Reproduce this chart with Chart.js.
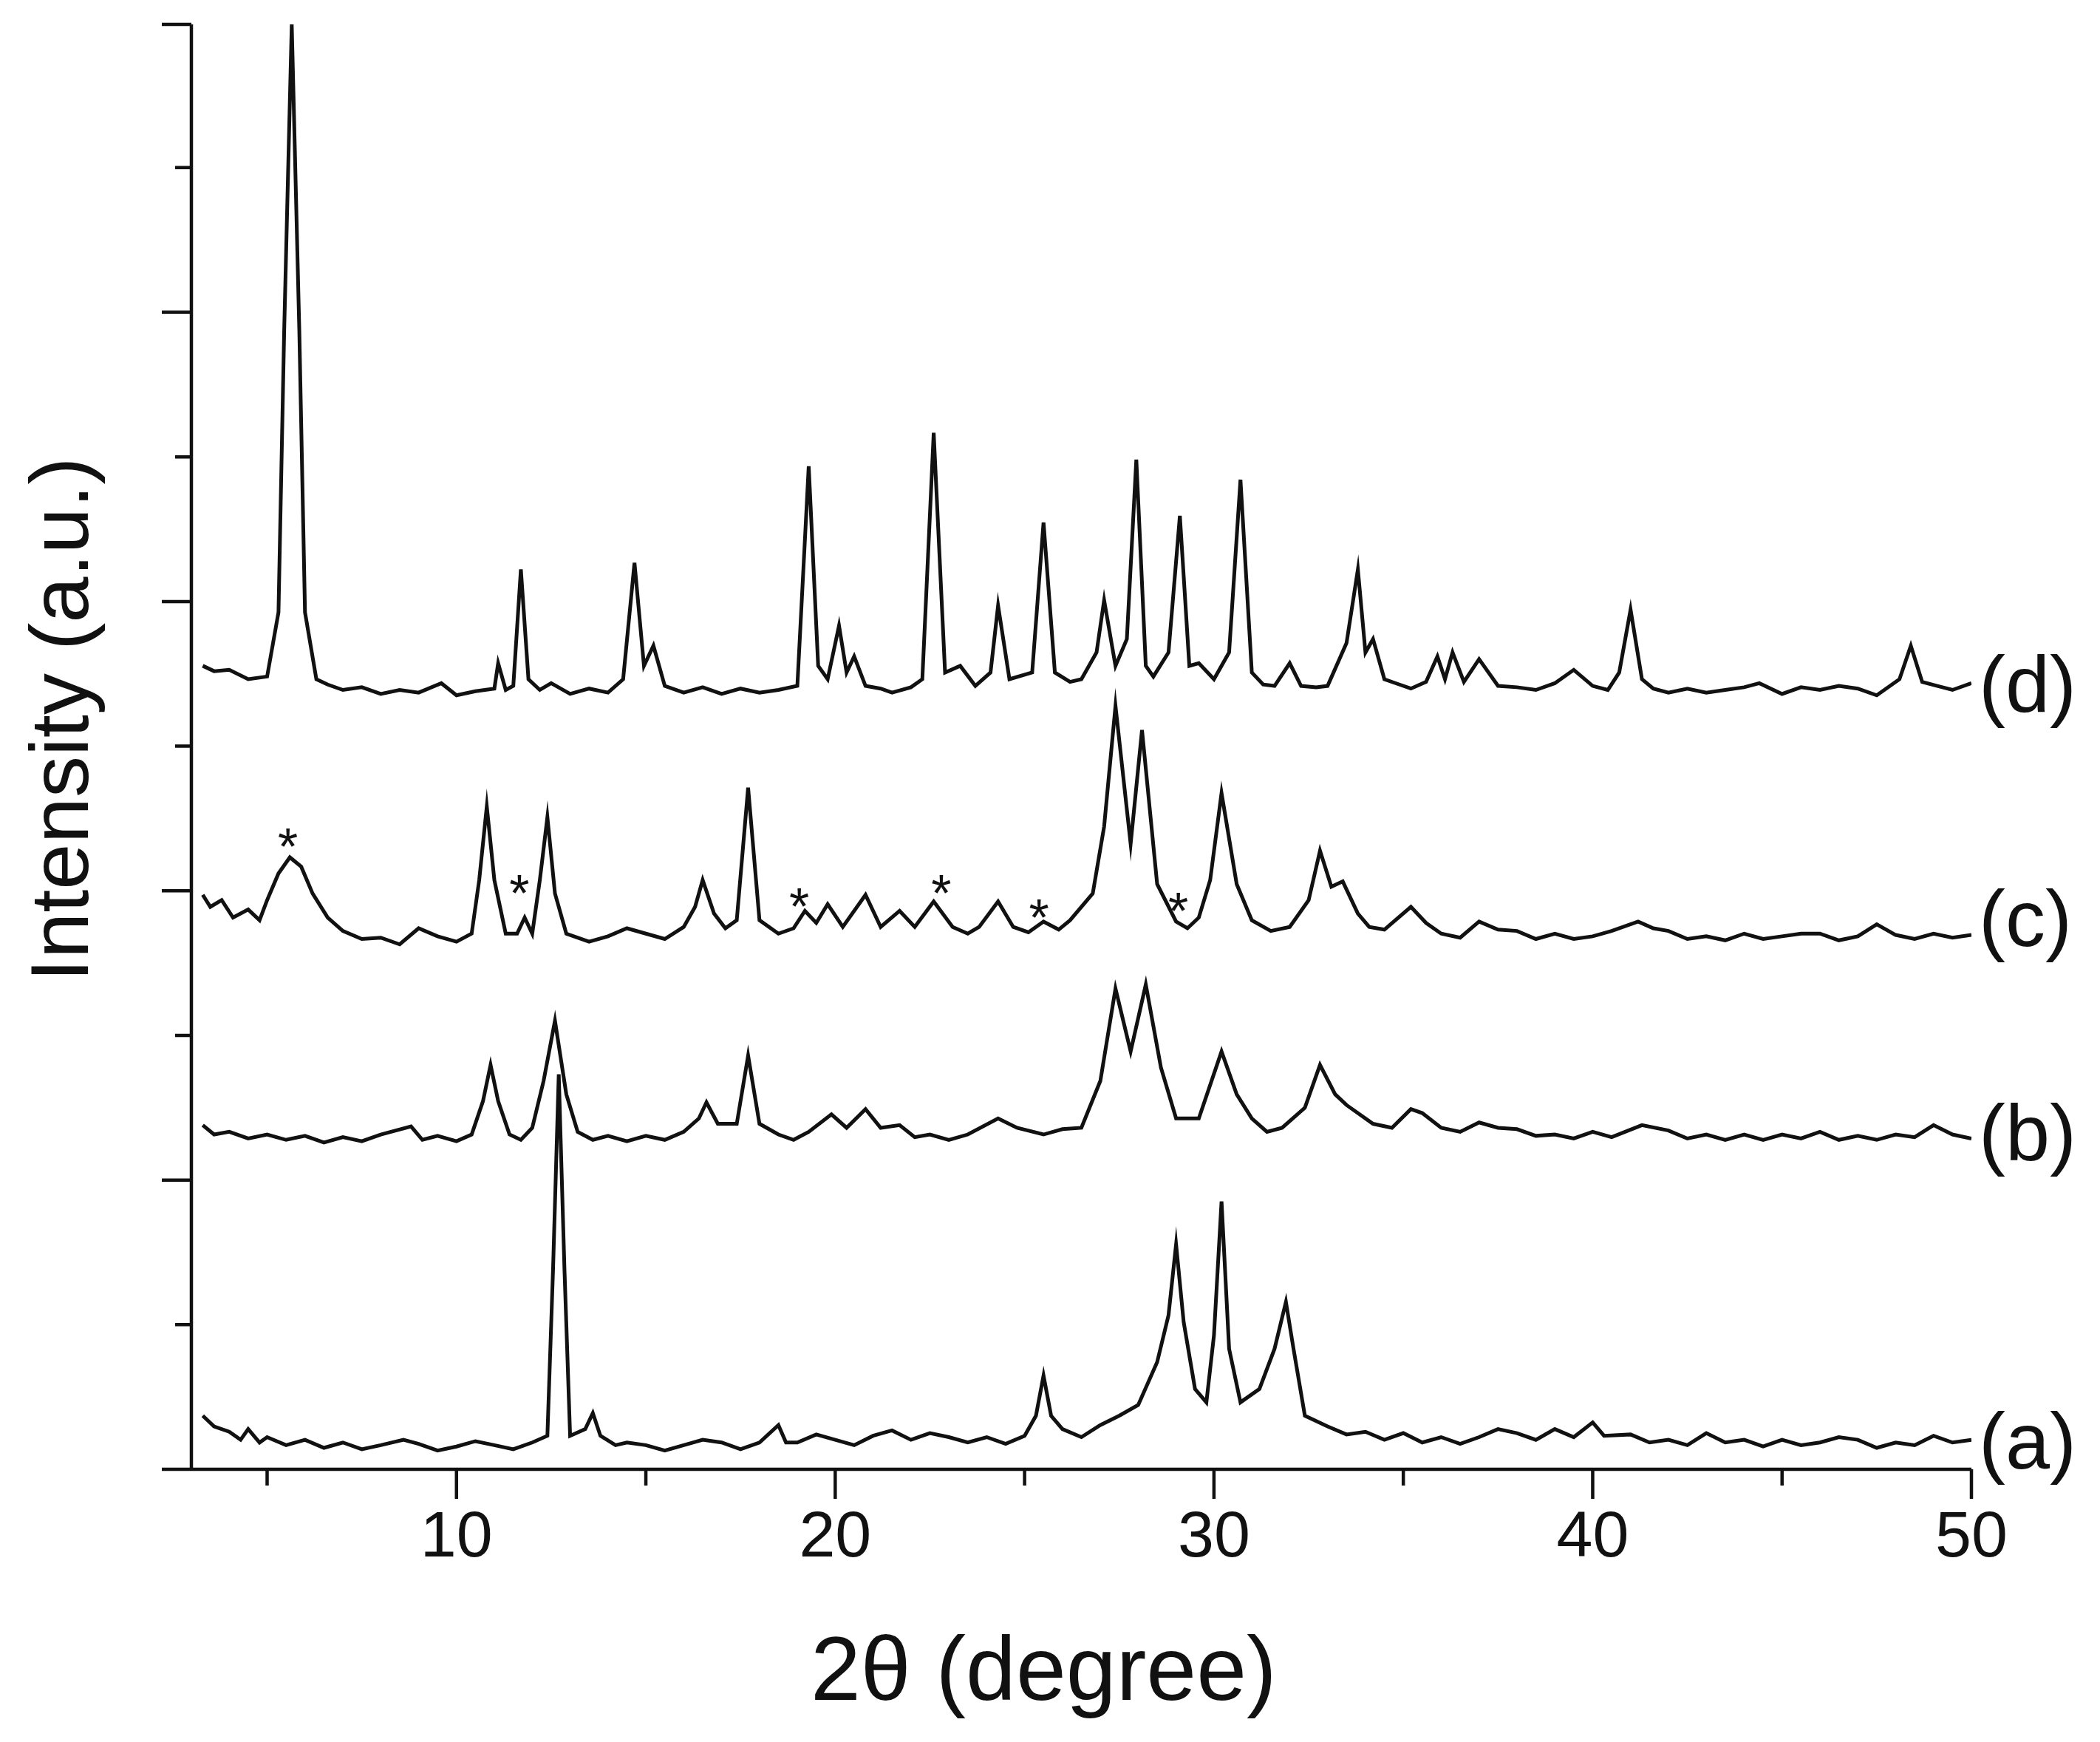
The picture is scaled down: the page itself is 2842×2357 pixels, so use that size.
<!DOCTYPE html>
<html>
<head>
<meta charset="utf-8">
<script src="https://cdn.jsdelivr.net/npm/chart.js@4/dist/chart.umd.min.js"></script>
<style>
  html, body { margin: 0; padding: 0; background: #fff; }
  #wrap { width: 2842px; height: 2357px; }
</style>
</head>
<body>
<div id="wrap"><canvas id="xrd"></canvas></div>
<script>
"use strict";
// 2θ / intensity pairs, intensity in arbitrary units (height above the x axis)
const patternA = [[3.3,40],[3.6,32],[4,28],[4.3,22],[4.5,30],[4.8,20],[5,24],[5.5,18],[6,22],[6.5,16],[7,20],[7.5,15],[8,18],[8.6,22],[9,19],[9.5,14],[10,17],[10.5,21],[11,18],[11.5,15],[12,20],[12.4,25],[12.55,150],[12.7,295],[12.85,150],[13.0,25],[13.4,30],[13.6,42],[13.8,25],[14.2,18],[14.5,20],[15,18],[15.5,14],[16,18],[16.5,22],[17,20],[17.5,15],[18,20],[18.5,33],[18.7,20],[19,20],[19.5,26],[20,22],[20.5,18],[21,25],[21.5,29],[22,22],[22.5,27],[23,24],[23.5,20],[24,24],[24.5,19],[25,25],[25.3,40],[25.5,70],[25.7,40],[26,30],[26.5,24],[27,33],[27.5,40],[28,48],[28.5,80],[28.8,115],[29.0,168],[29.2,110],[29.5,60],[29.8,50],[30.0,100],[30.2,200],[30.4,90],[30.7,50],[31.2,60],[31.6,90],[31.9,125],[32.1,90],[32.4,40],[33,32],[33.5,26],[34,28],[34.5,22],[35,27],[35.5,20],[36,24],[36.5,19],[37,24],[37.5,30],[38,27],[38.5,22],[39,30],[39.5,24],[40,35],[40.3,25],[41,26],[41.5,20],[42,22],[42.5,18],[43,27],[43.5,20],[44,22],[44.5,17],[45,22],[45.5,18],[46,20],[46.5,24],[47,22],[47.5,16],[48,20],[48.5,18],[49,25],[49.5,20],[50,22]];
const patternB = [[3.3,257],[3.6,250],[4,252],[4.5,247],[5,250],[5.5,246],[6,249],[6.5,244],[7,248],[7.5,245],[8,250],[8.8,256],[9.1,246],[9.5,249],[10,245],[10.4,250],[10.7,275],[10.9,302],[11.1,275],[11.4,250],[11.7,246],[12.0,255],[12.3,290],[12.6,335],[12.9,280],[13.2,252],[13.6,246],[14,249],[14.5,245],[15,249],[15.5,246],[16,252],[16.4,262],[16.6,274],[16.9,258],[17.4,258],[17.7,309],[18.0,258],[18.5,250],[18.9,246],[19.3,252],[19.9,265],[20.3,255],[20.8,269],[21.2,255],[21.7,257],[22.1,248],[22.5,250],[23,246],[23.5,250],[24.3,262],[24.8,255],[25.5,250],[26,254],[26.5,255],[27.0,290],[27.4,359],[27.8,312],[28.2,362],[28.6,300],[29.0,262],[29.6,262],[30.2,312],[30.6,280],[31.0,262],[31.4,252],[31.8,255],[32.4,270],[32.8,302],[33.2,280],[33.5,272],[34.2,258],[34.7,255],[35.2,269],[35.5,266],[36,255],[36.5,252],[37,259],[37.5,255],[38,254],[38.5,249],[39,250],[39.5,247],[40,252],[40.5,248],[41.3,257],[42,253],[42.5,247],[43,250],[43.5,246],[44,250],[44.5,246],[45,250],[45.5,247],[46,252],[46.5,246],[47,249],[47.5,246],[48,250],[48.5,248],[49,257],[49.5,250],[50,247]];
const patternC = [[3.3,429],[3.5,420],[3.8,425],[4.1,412],[4.5,418],[4.8,410],[5.0,425],[5.3,445],[5.6,457],[5.9,450],[6.2,430],[6.6,412],[7,402],[7.5,396],[8,397],[8.5,392],[9,404],[9.5,398],[10,394],[10.4,400],[10.6,440],[10.8,495],[11.0,440],[11.3,400],[11.6,400],[11.8,412],[12.0,400],[12.2,440],[12.4,487],[12.6,430],[12.9,400],[13.5,394],[14,398],[14.5,404],[15,400],[15.5,396],[16,405],[16.3,420],[16.5,440],[16.8,415],[17.1,404],[17.4,410],[17.7,509],[18.0,410],[18.5,400],[18.9,404],[19.2,417],[19.5,408],[19.8,422],[20.2,405],[20.8,429],[21.2,405],[21.7,417],[22.1,405],[22.6,424],[23.1,405],[23.5,400],[23.8,405],[24.3,424],[24.7,405],[25.1,401],[25.5,409],[25.9,403],[26.2,410],[26.8,430],[27.1,480],[27.4,570],[27.8,467],[28.1,552],[28.5,437],[29.0,409],[29.3,404],[29.6,412],[29.9,440],[30.2,505],[30.6,437],[31.0,410],[31.5,402],[32.0,405],[32.5,425],[32.8,462],[33.1,435],[33.4,439],[33.8,415],[34.1,405],[34.5,403],[35.2,420],[35.6,408],[36,400],[36.5,397],[37,409],[37.5,403],[38,402],[38.5,396],[39,400],[39.5,396],[40,398],[40.5,402],[41.2,409],[41.6,404],[42,402],[42.5,396],[43,398],[43.5,395],[44,400],[44.5,396],[45,398],[45.5,400],[46,400],[46.5,395],[47,398],[47.5,407],[48,399],[48.5,396],[49,400],[49.5,397],[50,399]];
const patternD = [[3.3,600],[3.6,596],[4,597],[4.5,590],[5,592],[5.3,640],[5.45,850],[5.65,1079],[5.85,850],[6.0,640],[6.3,590],[6.6,586],[7,582],[7.5,584],[8,579],[8.5,582],[9,580],[9.6,587],[10,578],[10.5,581],[11,583],[11.1,602],[11.3,582],[11.5,585],[11.7,672],[11.9,590],[12.2,582],[12.5,587],[13,579],[13.5,583],[14,580],[14.4,590],[14.7,677],[14.95,600],[15.2,615],[15.5,585],[16,580],[16.5,584],[17,579],[17.5,583],[18,580],[18.5,582],[19,585],[19.3,749],[19.55,600],[19.8,590],[20.1,630],[20.3,595],[20.5,607],[20.8,585],[21.2,583],[21.5,580],[22,584],[22.3,590],[22.6,774],[22.9,595],[23.3,600],[23.7,585],[24.1,595],[24.3,645],[24.6,590],[25.2,595],[25.5,707],[25.8,595],[26.2,588],[26.5,590],[26.9,610],[27.1,649],[27.4,600],[27.7,620],[27.95,754],[28.2,600],[28.4,592],[28.8,610],[29.1,712],[29.35,600],[29.6,602],[30.0,590],[30.4,610],[30.7,739],[31.0,595],[31.3,586],[31.6,585],[32.0,602],[32.3,585],[32.7,584],[33.0,585],[33.5,617],[33.8,672],[34.0,610],[34.2,620],[34.5,590],[34.9,586],[35.2,583],[35.6,588],[35.9,607],[36.1,590],[36.3,610],[36.6,588],[37,605],[37.5,585],[38,584],[38.5,582],[39,587],[39.5,597],[40,585],[40.4,582],[40.7,595],[41.0,642],[41.3,590],[41.6,583],[42,580],[42.5,583],[43,580],[43.5,582],[44,584],[44.4,587],[45,579],[45.5,584],[46,582],[46.5,585],[47,583],[47.5,578],[48.1,590],[48.4,615],[48.7,588],[49.1,585],[49.5,582],[50,587]];

const seriesLabels = ["(a)", "(b)", "(c)", "(d)"];
const labelHeights = [17, 247, 407, 582];
const starX = [5.55, 11.66, 19.05, 22.8, 25.38, 29.06];
const starY = [470, 435, 425, 435, 417, 422];
const xMajorTicks = [10, 20, 30, 40, 50];
const xMinorTicks = [5, 15, 25, 35, 45];
const yMajorTicks = [0, 216, 432, 648, 864, 1079];
const yMinorTicks = [108, 324, 540, 756, 972];

const FONT = "'Liberation Sans', Arial, sans-serif";
const INK = "#111";

function toPoints(arr) {
    return arr.map(p => ({x: p[0], y: p[1]}));
}

const decor = {
    id: "decor",
    afterDraw(chart) {
        const ctx = chart.ctx;
        const xs = chart.scales.x;
        const ys = chart.scales.y;
        const bottom = ys.getPixelForValue(0);
        const left = xs.getPixelForValue(3);
        ctx.save();
        ctx.strokeStyle = INK;
        ctx.lineWidth = 4.5;
        ctx.beginPath();
        ctx.moveTo(left, ys.getPixelForValue(1079));
        ctx.lineTo(left, bottom);
        ctx.lineTo(xs.getPixelForValue(50), bottom);
        xMajorTicks.forEach(v => { const px = xs.getPixelForValue(v); ctx.moveTo(px, bottom); ctx.lineTo(px, bottom + 40); });
        xMinorTicks.forEach(v => { const px = xs.getPixelForValue(v); ctx.moveTo(px, bottom); ctx.lineTo(px, bottom + 22); });
        yMajorTicks.forEach(v => { const py = ys.getPixelForValue(v); ctx.moveTo(left, py); ctx.lineTo(left - 40, py); });
        yMinorTicks.forEach(v => { const py = ys.getPixelForValue(v); ctx.moveTo(left, py); ctx.lineTo(left - 22, py); });
        ctx.moveTo(left - 40, bottom); ctx.lineTo(left, bottom);
        ctx.stroke();

        ctx.fillStyle = INK;
        ctx.font = "88px " + FONT;
        ctx.textAlign = "center";
        ctx.textBaseline = "top";
        xMajorTicks.forEach(v => ctx.fillText(String(v), xs.getPixelForValue(v), bottom + 50));
        ctx.font = "122px " + FONT;
        ctx.textBaseline = "middle";
        ctx.fillText("2θ (degree)", xs.getPixelForValue(25.5), bottom + 278);

        ctx.save();
        ctx.translate(88, ys.getPixelForValue(560));
        ctx.rotate(-Math.PI / 2);
        ctx.font = "112px " + FONT;
        ctx.fillText("Intensity (a.u.)", 0, 0);
        ctx.restore();

        ctx.font = "108px " + FONT;
        ctx.textAlign = "left";
        ctx.textBaseline = "middle";
        seriesLabels.forEach((t, i) => ctx.fillText(t, xs.getPixelForValue(50) + 10, ys.getPixelForValue(labelHeights[i])));

        ctx.font = "70px " + FONT;
        ctx.textAlign = "center";
        starX.forEach((x, i) => ctx.fillText("*", xs.getPixelForValue(x), ys.getPixelForValue(starY[i]) + 14));
        ctx.restore();
    }
};

function lineSet(arr) {
    return {
        data: toPoints(arr),
        borderColor: INK,
        borderWidth: 5,
        pointRadius: 0,
        tension: 0,
        fill: false
    };
}

new Chart(document.getElementById("xrd"), {
    type: "line",
    data: {
        datasets: [lineSet(patternA), lineSet(patternB), lineSet(patternC), lineSet(patternD)]
    },
    options: {
        responsive: true,
        maintainAspectRatio: false,
        animation: false,
        layout: { padding: { top: 33, right: 174, left: 0, bottom: 0 } },
        plugins: { legend: { display: false }, tooltip: { enabled: false } },
        scales: {
            x: {
                type: "linear", min: 3, max: 50,
                grid: { display: false }, border: { display: false },
                ticks: { display: false },
                afterFit(s) { s.height = 369; }
            },
            y: {
                type: "linear", min: 0, max: 1079,
                grid: { display: false }, border: { display: false },
                ticks: { display: false },
                afterFit(s) { s.width = 259; }
            }
        }
    },
    plugins: [decor]
});
</script>
</body>
</html>
